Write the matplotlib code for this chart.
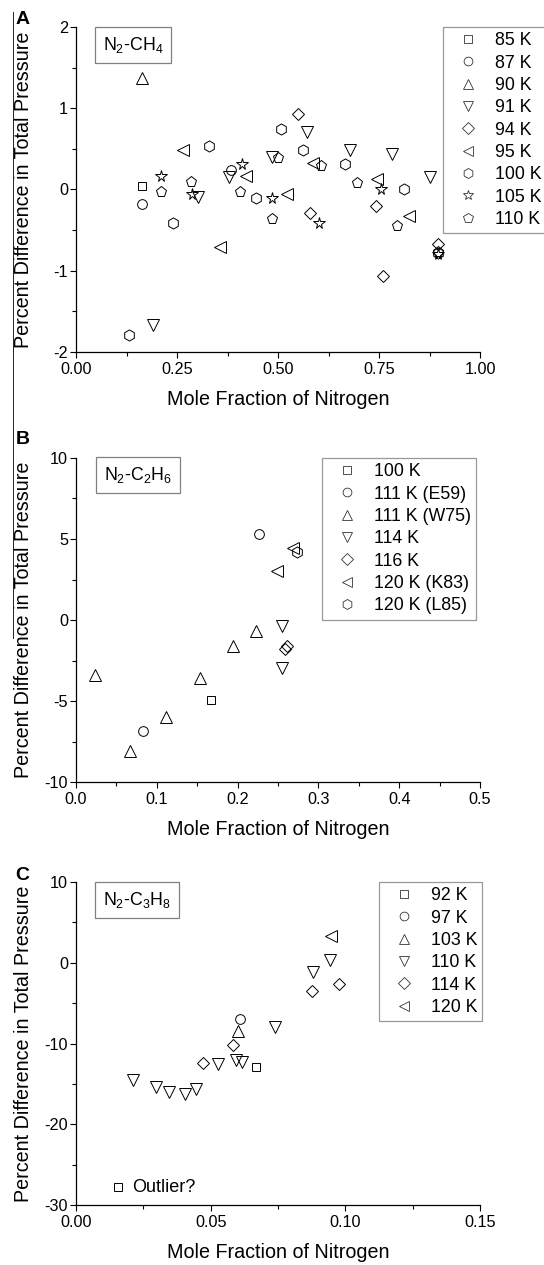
import matplotlib
matplotlib.use('Agg')
import matplotlib.pyplot as plt
from matplotlib.lines import Line2D
from matplotlib.ticker import MultipleLocator, FormatStrFormatter

plt.rcParams['font.family'] = ['Liberation Sans', 'DejaVu Sans']
plt.rcParams['axes.unicode_minus'] = False
plt.rcParams['mathtext.fontset'] = 'custom'
plt.rcParams['mathtext.rm'] = 'Liberation Sans'
plt.rcParams['mathtext.it'] = 'Liberation Sans:italic'
plt.rcParams['mathtext.default'] = 'regular'

# ---------------- Panel A: N2-CH4 ----------------
a_labels = ['85 K', '87 K', '90 K', '91 K', '94 K', '95 K', '100 K', '105 K', '110 K']
a85_x = [0.164]
a85_y = [0.04]
a87_x = [0.163, 0.383]
a87_y = [-0.18, 0.245]
a90_x = [0.163]
a90_y = [1.37]
a91_x = [0.190, 0.301, 0.379, 0.484, 0.571, 0.677, 0.781, 0.875]
a91_y = [-1.67, -0.09, 0.155, 0.40, 0.71, 0.49, 0.44, 0.15]
a94_x = [0.550, 0.578, 0.743, 0.761, 0.897]
a94_y = [0.93, -0.285, -0.20, -1.06, -0.67]
a95_x = [0.266, 0.356, 0.422, 0.523, 0.586, 0.746, 0.824]
a95_y = [0.49, -0.71, 0.16, -0.06, 0.33, 0.135, -0.33]
a100_x = [0.132, 0.239, 0.329, 0.446, 0.507, 0.563, 0.666, 0.813, 0.897]
a100_y = [-1.79, -0.41, 0.53, -0.105, 0.74, 0.48, 0.31, 0.005, -0.78]
a105_x = [0.210, 0.286, 0.412, 0.484, 0.601, 0.754, 0.897]
a105_y = [0.165, -0.06, 0.31, -0.105, -0.41, 0.01, -0.80]
a110_x = [0.210, 0.285, 0.406, 0.484, 0.501, 0.606, 0.695, 0.795, 0.897]
a110_y = [-0.03, 0.09, -0.03, -0.36, 0.39, 0.29, 0.08, -0.45, -0.77]

# ---------------- Panel B: N2-C2H6 ----------------
b_labels = ['100 K', '111 K (E59)', '111 K (W75)', '114 K', '116 K', '120 K (K83)', '120 K (L85)']
b100_x = [0.167]
b100_y = [-4.93]
b111e_x = [0.0834, 0.227]
b111e_y = [-6.88, 5.31]
b111w_x = [0.0235, 0.0669, 0.1115, 0.154, 0.194, 0.223]
b111w_y = [-3.38, -8.07, -6.0, -3.55, -1.6, -0.66]
b114_x = [0.255, 0.255]
b114_y = [-0.37, -2.94]
b116_x = [0.261, 0.259]
b116_y = [-1.59, -1.80]
b120k_x = [0.249, 0.269]
b120k_y = [3.04, 4.43]
b120l_x = [0.273]
b120l_y = [4.17]

# ---------------- Panel C: N2-C3H8 ----------------
c_labels = ['92 K', '97 K', '103 K', '110 K', '114 K', '120 K']
c92_x = [0.067]
c92_y = [-12.9]
c97_x = [0.0609]
c97_y = [-7.0]
c103_x = [0.060]
c103_y = [-8.45]
c110_x = [0.021, 0.0297, 0.0345, 0.0403, 0.0444, 0.0526, 0.0593, 0.0616, 0.074, 0.088, 0.0943]
c110_y = [-14.5, -15.4, -16.0, -16.2, -15.6, -12.6, -12.1, -12.3, -8.0, -1.15, 0.29]
c114_x = [0.047, 0.0583, 0.0877, 0.0977]
c114_y = [-12.4, -10.2, -3.55, -2.68]
c120_x = [0.0947]
c120_y = [3.26]
c_outlier_x = [0.0157]
c_outlier_y = [-27.8]
c_outlier_text = 'Outlier?'

ylabel_text = 'Percent Difference in Total Pressure'
xlabel_text = 'Mole Fraction of Nitrogen'

# marker styles (style, not data)
MK = {'s': 6.0, 'o': 7.0, '^': 8.0, 'v': 8.0, 'D': 6.3, '<': 8.0, 'h': 8.0, '*': 8.5, 'p': 8.0}

W, H = 544, 1265
fig = plt.figure(figsize=(W / 100, H / 100), dpi=100)


def axes_px(left, top, right, bottom):
    return fig.add_axes([left / W, 1 - bottom / H, (right - left) / W, (bottom - top) / H])


def style_axes(ax, xlim, ylim, xmaj, xmin, ymaj, ymin, xfmt, yfmt):
    ax.set_xlim(*xlim)
    ax.set_ylim(*ylim)
    for s in ('top', 'right'):
        ax.spines[s].set_visible(False)
    for s in ('left', 'bottom'):
        ax.spines[s].set_linewidth(0.9)
    ax.xaxis.set_major_locator(MultipleLocator(xmaj))
    ax.xaxis.set_minor_locator(MultipleLocator(xmin))
    ax.yaxis.set_major_locator(MultipleLocator(ymaj))
    ax.yaxis.set_minor_locator(MultipleLocator(ymin))
    ax.xaxis.set_major_formatter(FormatStrFormatter(xfmt))
    ax.yaxis.set_major_formatter(FormatStrFormatter(yfmt))
    ax.tick_params(which='both', direction='out', width=0.8, labelsize=11.7)
    ax.tick_params(which='major', length=4.2)
    ax.tick_params(which='minor', length=2.6)
    ax.tick_params(axis='x', which='major', pad=3.0)
    ax.tick_params(axis='y', which='major', pad=1.5)
    ax.set_ylabel(ylabel_text, fontsize=14.2)
    ax.set_xlabel(xlabel_text, fontsize=14.2)
    ax.yaxis.set_label_coords(-0.106, 0.5)
    ax.xaxis.set_label_coords(0.5, -0.118)


def plot_series(ax, x, y, marker, label):
    ax.plot(x, y, linestyle='none', marker=marker, ms=MK[marker], mfc='none',
            mec='black', mew=0.7, label=label, clip_on=False)


def inset_box(ax, x, y, text):
    ax.text(x, y, text, transform=ax.transAxes, ha='center', va='center', fontsize=12.8,
            bbox=dict(boxstyle='square,pad=0.45', fc='white', ec='#808080', lw=0.9))


def legend(ax, left_px, top_px):
    leg = ax.legend(loc='upper left', bbox_to_anchor=(left_px / W, 1 - top_px / H),
                    bbox_transform=fig.transFigure, borderaxespad=0, fontsize=12.8,
                    frameon=True, fancybox=False, edgecolor='#808080', borderpad=0.3,
                    handlelength=2.2, handletextpad=0.4, labelspacing=0.30, markerscale=0.9)
    leg.get_frame().set_linewidth(0.9)
    for h in leg.legend_handles:
        h.set_markeredgecolor('#333333')
        h.set_markeredgewidth(0.6)


# Panel A
axA = axes_px(76, 27, 480, 352)
style_axes(axA, (0, 1.0), (-2, 2), 0.25, 0.125, 1, 0.5, '%.2f', '%d')
for (x, y, m, lab) in [(a85_x, a85_y, 's', a_labels[0]), (a87_x, a87_y, 'o', a_labels[1]),
                       (a90_x, a90_y, '^', a_labels[2]), (a91_x, a91_y, 'v', a_labels[3]),
                       (a94_x, a94_y, 'D', a_labels[4]), (a95_x, a95_y, '<', a_labels[5]),
                       (a100_x, a100_y, 'h', a_labels[6]), (a105_x, a105_y, '*', a_labels[7]),
                       (a110_x, a110_y, 'p', a_labels[8])]:
    plot_series(axA, x, y, m, lab)
inset_box(axA, 0.141, 0.946, r'N$_2$-CH$_4$')
legend(axA, 443, 27)

# Panel B
axB = axes_px(76, 458, 480, 782)
style_axes(axB, (0, 0.5), (-10, 10), 0.1, 0.05, 5, 2.5, '%.1f', '%d')
for (x, y, m, lab) in [(b100_x, b100_y, 's', b_labels[0]), (b111e_x, b111e_y, 'o', b_labels[1]),
                       (b111w_x, b111w_y, '^', b_labels[2]), (b114_x, b114_y, 'v', b_labels[3]),
                       (b116_x, b116_y, 'D', b_labels[4]), (b120k_x, b120k_y, '<', b_labels[5]),
                       (b120l_x, b120l_y, 'h', b_labels[6])]:
    plot_series(axB, x, y, m, lab)
inset_box(axB, 0.153, 0.946, r'N$_2$-C$_2$H$_6$')
legend(axB, 322, 458)

# Panel C
axC = axes_px(76, 882, 480, 1205)
style_axes(axC, (0, 0.15), (-30, 10), 0.05, 0.025, 10, 5, '%.2f', '%d')
for (x, y, m, lab) in [(c92_x, c92_y, 's', c_labels[0]), (c97_x, c97_y, 'o', c_labels[1]),
                       (c103_x, c103_y, '^', c_labels[2]), (c110_x, c110_y, 'v', c_labels[3]),
                       (c114_x, c114_y, 'D', c_labels[4]), (c120_x, c120_y, '<', c_labels[5])]:
    plot_series(axC, x, y, m, lab)
plot_series(axC, c_outlier_x, c_outlier_y, 's', '_nolegend_')
axC.annotate(c_outlier_text, xy=(c_outlier_x[0], c_outlier_y[0]), xytext=(10, 0),
             textcoords='offset points', ha='left', va='center', fontsize=13)
inset_box(axC, 0.152, 0.944, r'N$_2$-C$_3$H$_8$')
legend(axC, 379, 882)

# panel letters
for letter, (px, py) in zip(['A', 'B', 'C'], [(23, 20), (23, 440), (22, 876)]):
    fig.text(px / W, 1 - py / H, letter, ha='center', va='center', fontsize=14, fontweight='bold')

# thin vertical rule at left edge (present in the source figure)
fig.add_artist(Line2D([12.7 / W, 12.7 / W], [1 - 12 / H, 1 - 638 / H], color='#222222', lw=0.7))

fig.savefig('out.png', dpi=100)
